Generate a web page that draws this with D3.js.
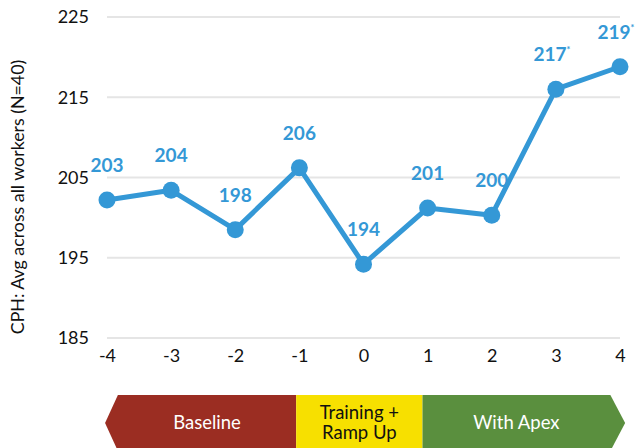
<!DOCTYPE html>
<html>
<head>
<meta charset="utf-8">
<script src="https://cdn.jsdelivr.net/npm/d3@7"></script>
<style>
  body { margin: 0; background: #fff; }
  svg { font-family: Lato, "Open Sans", sans-serif; display: block; }
</style>
</head>
<body>
<svg id="chart" width="635" height="448"></svg>
<script>
// data
var periods = [-4, -3, -2, -1, 0, 1, 2, 3, 4];
var cph = [202.2, 203.4, 198.5, 206.2, 194.2, 201.2, 200.3, 216.0, 218.8];
var pointLabels = ['203', '204', '198', '206', '194', '201', '200', '217', '219'];
var starred = [false, false, false, false, false, false, false, true, true];
var yTicks = [185, 195, 205, 215, 225];

// phase banner, in period units
var phaseNames = ['Baseline', 'Training +|Ramp Up', 'With Apex'];
var phaseStart = [-3.83, -1.05, 0.92];
var phaseEnd = [-1.05, 0.92, 3.85];
var phaseColors = ['#9b2d22', '#f7e000', '#5a8f3e'];
var phaseText = ['#fff', '#111', '#fff'];

var svg = d3.select('#chart');

var x = d3.scaleLinear()
    .domain([-4, 4])
    .range([107, 620]);

var y = d3.scaleLinear()
    .domain([185, 225])
    .range([338, 17]);

// gridlines
svg.append('g')
    .selectAll('line')
    .data(yTicks)
    .enter().append('line')
    .attr('x1', 107)
    .attr('x2', 620)
    .attr('y1', function(d) { return y(d); })
    .attr('y2', function(d) { return y(d); })
    .attr('stroke', '#e5e5e5')
    .attr('stroke-width', 2);

// y axis (labels only)
var yAxis = d3.axisLeft(y)
    .tickValues(yTicks)
    .tickSize(0)
    .tickPadding(0);

svg.append('g')
    .attr('transform', 'translate(89,0)')
    .call(yAxis)
    .call(function(g) { g.select('.domain').remove(); })
    .selectAll('text')
    .attr('font-family', 'Lato, sans-serif')
    .attr('font-size', 18)
    .attr('fill', '#111');

// x axis (labels only), plain hyphen minus like the original
var xAxis = d3.axisBottom(x)
    .tickValues(periods)
    .tickSize(0)
    .tickPadding(0)
    .tickFormat(function(d) { return String(d); });

svg.append('g')
    .attr('transform', 'translate(0,349)')
    .call(xAxis)
    .call(function(g) { g.select('.domain').remove(); })
    .selectAll('text')
    .attr('font-family', 'Lato, sans-serif')
    .attr('font-size', 18)
    .attr('fill', '#111');

// y title
svg.append('text')
    .attr('transform', 'translate(24,197) rotate(-90)')
    .attr('text-anchor', 'middle')
    .attr('font-family', 'Lato, sans-serif')
    .attr('font-size', 17.8)
    .attr('fill', '#111')
    .text('CPH: Avg across all workers (N=40)');

// line
var line = d3.line()
    .x(function(d, i) { return x(periods[i]); })
    .y(function(d) { return y(d); });

svg.append('path')
    .datum(cph)
    .attr('d', line)
    .attr('fill', 'none')
    .attr('stroke', '#3498d6')
    .attr('stroke-width', 5)
    .attr('stroke-linejoin', 'round');

svg.append('g')
    .selectAll('circle')
    .data(cph)
    .enter().append('circle')
    .attr('cx', function(d, i) { return x(periods[i]); })
    .attr('cy', function(d) { return y(d); })
    .attr('r', 8.5)
    .attr('fill', '#3498d6');

// value labels
var lbl = svg.append('g')
    .selectAll('text')
    .data(cph)
    .enter().append('text')
    .attr('x', function(d, i) { return x(periods[i]) - (starred[i] ? 4 : 0); })
    .attr('y', function(d) { return y(d) - 28; })
    .attr('text-anchor', 'middle')
    .attr('font-family', 'Lato, sans-serif')
    .attr('font-weight', 'bold')
    .attr('font-size', 19)
    .attr('fill', '#3498d6')
    .text(function(d, i) { return pointLabels[i]; });

lbl.filter(function(d, i) { return starred[i]; })
    .append('tspan')
    .attr('dy', -8)
    .attr('font-size', 9)
    .text('*');

// phase banner
var bandTop = 395, bandBottom = 451, bandMid = (bandTop + bandBottom) / 2;
var phases = svg.append('g')
    .selectAll('g')
    .data(phaseNames)
    .enter().append('g');

phases.append('polygon')
    .attr('points', function(d, i) {
        var x0 = x(phaseStart[i]), x1 = x(phaseEnd[i]);
        var pts;
        if (i === 0) {
            pts = [[x0, bandTop], [x1, bandTop], [x1, bandBottom], [x0, bandBottom], [x(-4.03), bandMid]];
        } else if (i === phaseNames.length - 1) {
            pts = [[x0, bandTop], [x1, bandTop], [x(4.08), bandMid], [x1, bandBottom], [x0, bandBottom]];
        } else {
            pts = [[x0, bandTop], [x1, bandTop], [x1, bandBottom], [x0, bandBottom]];
        }
        return pts.map(function(p) { return p.join(','); }).join(' ');
    })
    .attr('fill', function(d, i) { return phaseColors[i]; });

phases.each(function(d, i) {
    var lines = d.split('|');
    var cx = (x(phaseStart[i]) + x(phaseEnd[i])) / 2;
    var t = d3.select(this).append('text')
        .attr('text-anchor', 'middle')
        .attr('font-family', 'Lato, sans-serif')
        .attr('font-size', 18.5)
        .attr('fill', phaseText[i]);
    lines.forEach(function(s, k) {
        t.append('tspan')
            .attr('x', cx)
            .attr('y', 429 + (k - (lines.length - 1) / 2) * 20)
            .text(s);
    });
});
</script>
</body>
</html>
